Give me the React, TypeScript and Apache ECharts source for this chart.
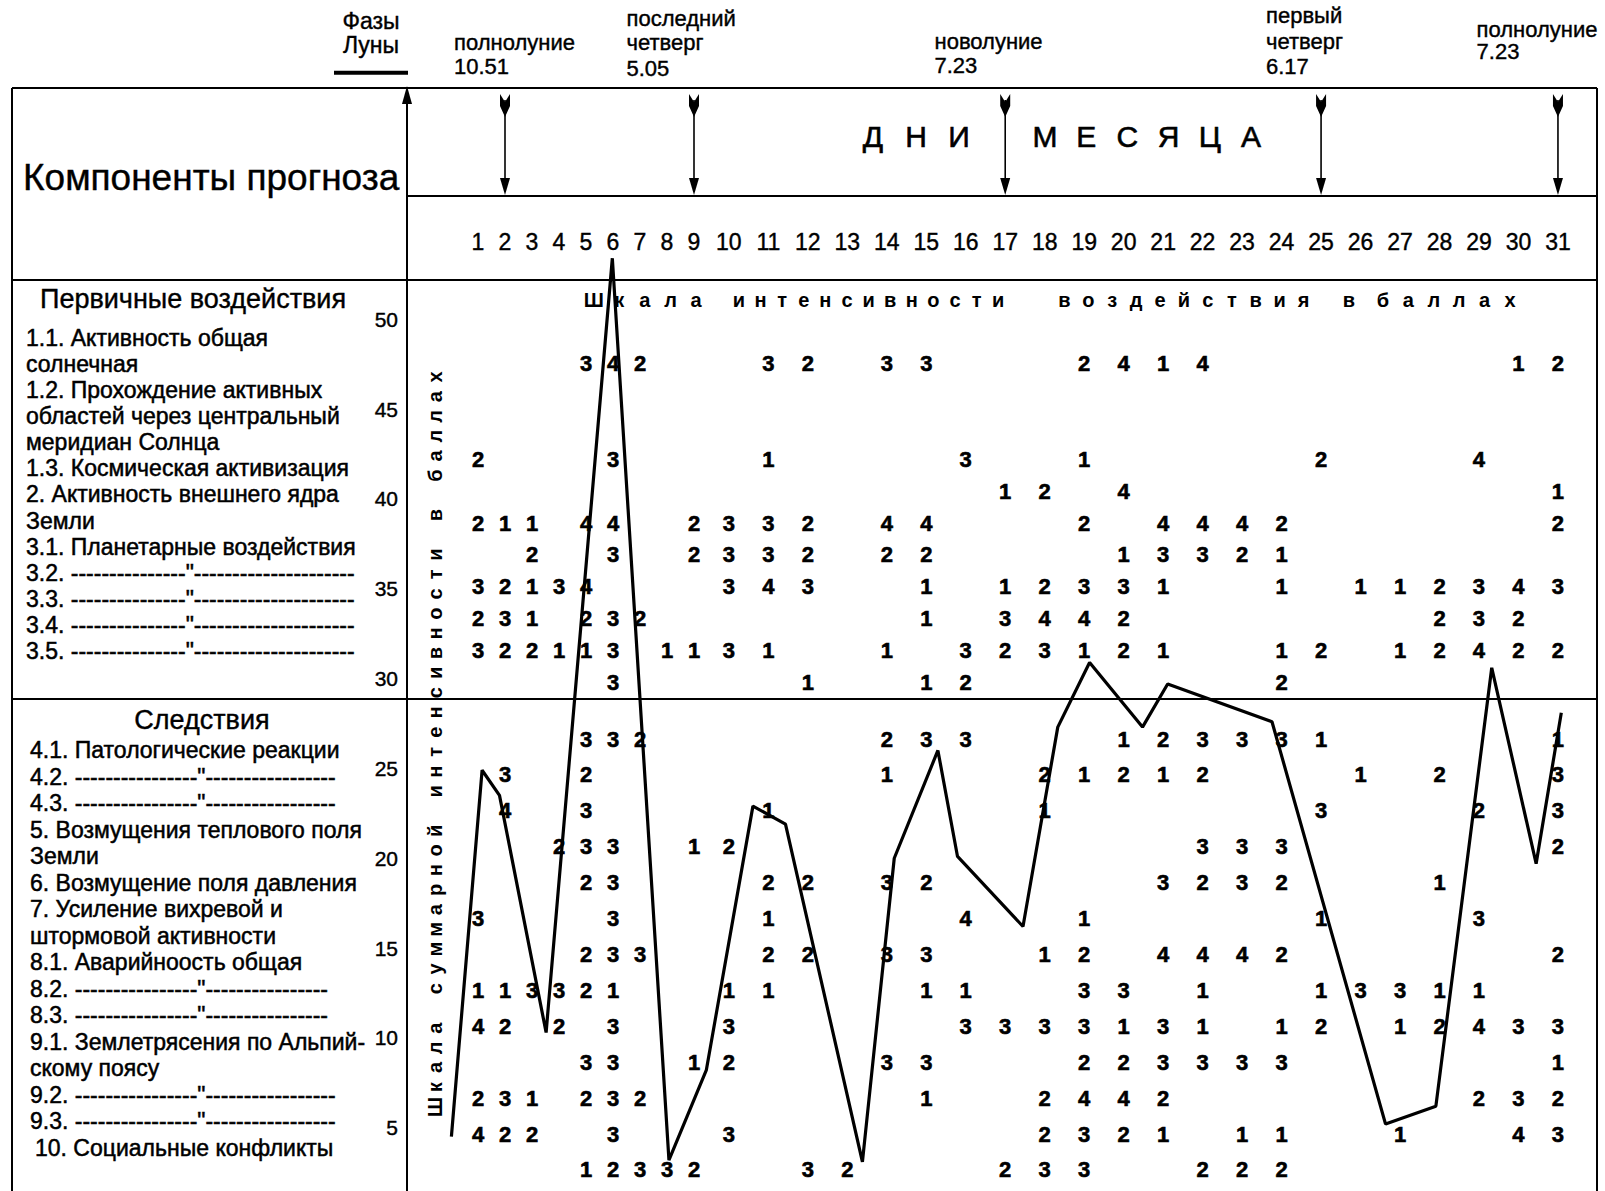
import React, { useEffect, useRef } from 'react';
import * as echarts from 'echarts';

// ---------- data ----------
const dayLabelsA = ['1', '2', '3', '4', '5', '6', '7', '8', '9'];
const dayLabelsB = ['10', '11', '12', '13', '14', '15', '16', '17', '18', '19', '20', '21', '22', '23', '24', '25', '26', '27', '28', '29', '30', '31'];

// digit rows (spacer rows keep the gap that the three-line label 1.2 takes)
const primaryRowKeys = ['1.1', 'sp1', 'sp2', '1.2', '1.3', '2', '3.1', '3.2', '3.3', '3.4', '3.5'];
const consRowKeys = ['4.1', '4.2', '4.3', '5', '6', '7', '8.1', '8.2', '8.3', '9.1', '9.2', '9.3', '10'];

// scores (баллы) for days 1..31, 0 = no score
const s1_1 = [0, 0, 0, 0, 3, 4, 2, 0, 0, 0, 3, 2, 0, 3, 3, 0, 0, 0, 2, 4, 1, 4, 0, 0, 0, 0, 0, 0, 0, 1, 2];
const s1_2 = [2, 0, 0, 0, 0, 3, 0, 0, 0, 0, 1, 0, 0, 0, 0, 3, 0, 0, 1, 0, 0, 0, 0, 0, 2, 0, 0, 0, 4, 0, 0];
const s1_3 = [0, 0, 0, 0, 0, 0, 0, 0, 0, 0, 0, 0, 0, 0, 0, 0, 1, 2, 0, 4, 0, 0, 0, 0, 0, 0, 0, 0, 0, 0, 1];
const s2 = [2, 1, 1, 0, 4, 4, 0, 0, 2, 3, 3, 2, 0, 4, 4, 0, 0, 0, 2, 0, 4, 4, 4, 2, 0, 0, 0, 0, 0, 0, 2];
const s3_1 = [0, 0, 2, 0, 0, 3, 0, 0, 2, 3, 3, 2, 0, 2, 2, 0, 0, 0, 0, 1, 3, 3, 2, 1, 0, 0, 0, 0, 0, 0, 0];
const s3_2 = [3, 2, 1, 3, 4, 0, 0, 0, 0, 3, 4, 3, 0, 0, 1, 0, 1, 2, 3, 3, 1, 0, 0, 1, 0, 1, 1, 2, 3, 4, 3];
const s3_3 = [2, 3, 1, 0, 2, 3, 2, 0, 0, 0, 0, 0, 0, 0, 1, 0, 3, 4, 4, 2, 0, 0, 0, 0, 0, 0, 0, 2, 3, 2, 0];
const s3_4 = [3, 2, 2, 1, 1, 3, 0, 1, 1, 3, 1, 0, 0, 1, 0, 3, 2, 3, 1, 2, 1, 0, 0, 1, 2, 0, 1, 2, 4, 2, 2];
const s3_5 = [0, 0, 0, 0, 0, 3, 0, 0, 0, 0, 0, 1, 0, 0, 1, 2, 0, 0, 0, 0, 0, 0, 0, 2, 0, 0, 0, 0, 0, 0, 0];

const s4_1 = [0, 0, 0, 0, 3, 3, 2, 0, 0, 0, 0, 0, 0, 2, 3, 3, 0, 0, 0, 1, 2, 3, 3, 3, 1, 0, 0, 0, 0, 0, 1];
const s4_2 = [0, 3, 0, 0, 2, 0, 0, 0, 0, 0, 0, 0, 0, 1, 0, 0, 0, 2, 1, 2, 1, 2, 0, 0, 0, 1, 0, 2, 0, 0, 3];
const s4_3 = [0, 4, 0, 0, 3, 0, 0, 0, 0, 0, 1, 0, 0, 0, 0, 0, 0, 1, 0, 0, 0, 0, 0, 0, 3, 0, 0, 0, 2, 0, 3];
const s5 = [0, 0, 0, 2, 3, 3, 0, 0, 1, 2, 0, 0, 0, 0, 0, 0, 0, 0, 0, 0, 0, 3, 3, 3, 0, 0, 0, 0, 0, 0, 2];
const s6 = [0, 0, 0, 0, 2, 3, 0, 0, 0, 0, 2, 2, 0, 3, 2, 0, 0, 0, 0, 0, 3, 2, 3, 2, 0, 0, 0, 1, 0, 0, 0];
const s7 = [3, 0, 0, 0, 0, 3, 0, 0, 0, 0, 1, 0, 0, 0, 0, 4, 0, 0, 1, 0, 0, 0, 0, 0, 1, 0, 0, 0, 3, 0, 0];
const s8_1 = [0, 0, 0, 0, 2, 3, 3, 0, 0, 0, 2, 2, 0, 3, 3, 0, 0, 1, 2, 0, 4, 4, 4, 2, 0, 0, 0, 0, 0, 0, 2];
const s8_2 = [1, 1, 3, 3, 2, 1, 0, 0, 0, 1, 1, 0, 0, 0, 1, 1, 0, 0, 3, 3, 0, 1, 0, 0, 1, 3, 3, 1, 1, 0, 0];
const s8_3 = [4, 2, 0, 2, 0, 3, 0, 0, 0, 3, 0, 0, 0, 0, 0, 3, 3, 3, 3, 1, 3, 1, 0, 1, 2, 0, 1, 2, 4, 3, 3];
const s9_1 = [0, 0, 0, 0, 3, 3, 0, 0, 1, 2, 0, 0, 0, 3, 3, 0, 0, 0, 2, 2, 3, 3, 3, 3, 0, 0, 0, 0, 0, 0, 1];
const s9_2 = [2, 3, 1, 0, 2, 3, 2, 0, 0, 0, 0, 0, 0, 0, 1, 0, 0, 2, 4, 4, 2, 0, 0, 0, 0, 0, 0, 0, 2, 3, 2];
const s9_3 = [4, 2, 2, 0, 0, 3, 0, 0, 0, 3, 0, 0, 0, 0, 0, 0, 0, 2, 3, 2, 1, 0, 1, 1, 0, 0, 1, 0, 0, 4, 3];
const s10 = [0, 0, 0, 0, 1, 2, 3, 3, 2, 0, 0, 3, 2, 0, 0, 0, 2, 3, 3, 0, 0, 2, 2, 2, 0, 0, 0, 0, 0, 0, 0];

// line of total intensity: bend points (day position, total score)
const lineDays = [1.0, 1.83, 2.3, 3.56, 5.35, 6.88, 7.89, 9.15, 10.03, 12.11, 12.97, 14.15, 14.68, 16.45, 17.39, 18.25, 19.68, 20.36, 23.18, 26.25, 27.61, 29.12, 30.32, 31.0];
const lineTotals = [4.5, 24.9, 23.5, 10.3, 53.4, 3.2, 8.2, 22.9, 21.9, 3.1, 20.0, 26.0, 20.1, 16.2, 27.3, 30.9, 27.3, 29.7, 27.6, 5.2, 6.2, 30.6, 19.7, 28.1];

// moon phases
const moonPhaseDays = [2, 9, 17, 25, 31];
const moonPhaseNames = [['полнолуние'], ['последний', 'четверг'], ['новолуние'], ['первый', 'четверг'], ['полнолуние']];
const moonPhaseTimes = ['10.51', '5.05', '7.23', '6.17', '7.23'];

// row labels
const primaryLabelLines = [
  '1.1. Активность общая',
  'солнечная',
  '1.2. Прохождение активных',
  'областей через центральный',
  'меридиан Солнца',
  '1.3. Космическая активизация',
  '2. Активность внешнего ядра',
  'Земли',
  '3.1. Планетарные воздействия',
  '3.2. ---------------"---------------------',
  '3.3. ---------------"---------------------',
  '3.4. ---------------"---------------------',
  '3.5. ---------------"---------------------',
];
const consLabelLines = [
  '4.1. Патологические реакции',
  '4.2. ----------------"-----------------',
  '4.3. ----------------"-----------------',
  '5. Возмущения теплового поля',
  'Земли',
  '6. Возмущение поля давления',
  '7. Усиление вихревой и',
  'штормовой активности',
  '8.1. Аварийноость общая',
  '8.2. ----------------"----------------',
  '8.3. ----------------"----------------',
  '9.1. Землетрясения по Альпий-',
  'скому поясу',
  '9.2. ----------------"-----------------',
  '9.3. ----------------"-----------------',
  '10. Социальные конфликты',
];

// ---------- helpers ----------
const FONT = '"Liberation Sans", Arial, Helvetica, sans-serif';
const NARROW = '"Liberation Sans Narrow", "Arial Narrow", "Liberation Sans", sans-serif';

const primaryRows: Record<string, number[]> = { '1.1': s1_1, '1.2': s1_2, '1.3': s1_3, '2': s2, '3.1': s3_1, '3.2': s3_2, '3.3': s3_3, '3.4': s3_4, '3.5': s3_5 };
const consRows: Record<string, number[]> = { '4.1': s4_1, '4.2': s4_2, '4.3': s4_3, '5': s5, '6': s6, '7': s7, '8.1': s8_1, '8.2': s8_2, '8.3': s8_3, '9.1': s9_1, '9.2': s9_2, '9.3': s9_3, '10': s10 };

function buildPoints(keys: string[], rows: Record<string, number[]>, fromDay: number, toDay: number) {
  const pts: number[][] = [];
  keys.forEach((k, r) => {
    const arr = rows[k];
    if (!arr) return;
    for (let d = fromDay; d <= toDay; d++) {
      const v = arr[d - 1];
      if (v) pts.push([d - fromDay, r, v]);
    }
  });
  return pts;
}

function txt(text: string, x: number, y: number, size: number, extra: any = {}) {
  const style: any = {
    text,
    fill: '#000',
    fontSize: size,
    fontFamily: extra.family || FONT,
    fontWeight: extra.weight || 'normal',
    align: extra.align || 'left',
    verticalAlign: 'middle',
  };
  if (extra.heavy) {
    style.stroke = '#000';
    style.lineWidth = extra.heavy;
  }
  return { type: 'text', x, y, silent: true, style };
}

function spacedWord(word: string, x0: number, y: number, pitch: number, size: number, weight = 'normal', heavy = 0) {
  return Array.from(word).map((ch, i) => txt(ch, x0 + i * pitch, y, size, { align: 'center', weight, heavy }));
}

function verticalSpaced(str: string, x: number, y0: number, pitch: number, size: number) {
  const out: any[] = [];
  Array.from(str).forEach((ch, i) => {
    if (ch === ' ') return;
    out.push({
      type: 'text',
      x,
      y: y0 - i * pitch,
      rotation: Math.PI / 2,
      silent: true,
      style: { text: ch, fill: '#000', fontSize: size, fontFamily: FONT, fontWeight: 'bold', align: 'center', verticalAlign: 'middle' },
    });
  });
  return out;
}

function hline(x1: number, x2: number, y: number, w = 2) {
  return { type: 'line', silent: true, shape: { x1, y1: y, x2, y2: y }, style: { stroke: '#000', lineWidth: w } };
}
function vline(x: number, y1: number, y2: number, w = 2) {
  return { type: 'line', silent: true, shape: { x1: x, y1, x2: x, y2 }, style: { stroke: '#000', lineWidth: w } };
}
function poly(points: number[][]) {
  return { type: 'polygon', silent: true, shape: { points }, style: { fill: '#000' } };
}

const digitLabel = {
  show: true,
  position: 'inside',
  formatter: (p: any) => String(p.value[2]),
  fontSize: 22,
  fontWeight: 'bold',
  color: '#000',
  opacity: 1,
  textBorderColor: '#000',
  textBorderWidth: 0.6,
  fontFamily: FONT,
};

const digitItem = { color: '#fff', opacity: 1, borderWidth: 0 };

const dayAxisLabel = {
  interval: 0,
  margin: 0,
  verticalAlign: 'middle',
  fontSize: 23,
  color: '#000',
  textBorderColor: '#000',
  textBorderWidth: 0.4,
  fontFamily: NARROW,
};

export default function App() {
  const ref = useRef<HTMLDivElement>(null);

  useEffect(() => {
    document.body.style.margin = '0';
    const el = ref.current;
    if (!el) return;
    const chart = echarts.init(el, null, { renderer: 'svg' });

    const gA = 464.5, wA = 243.0, gB = 709.1, wB = 868.6;
    const pTop = 347.4, pH = 351.2, cTop = 721.1, cH = 466.8;

    const hiddenCat = (grid: number, data: string[]) => ({ gridIndex: grid, type: 'category', data, show: false });
    const rowAxis = (grid: number, data: string[]) => ({ gridIndex: grid, type: 'category', data, inverse: true, show: false });
    const digits = (xi: number, data: number[][]) => ({
      type: 'scatter', xAxisIndex: xi, yAxisIndex: xi, data,
      symbol: 'circle', symbolSize: 0.1, itemStyle: digitItem, label: digitLabel,
      emphasis: { disabled: true }, silent: true, z: 2,
    });

    const option: any = {
      animation: false,
      backgroundColor: '#ffffff',
      grid: [
        { left: gA, top: pTop, width: wA, height: pH, containLabel: false, outerBoundsMode: 'none' },
        { left: gB, top: pTop, width: wB, height: pH, containLabel: false, outerBoundsMode: 'none' },
        { left: gA, top: cTop, width: wA, height: cH, containLabel: false, outerBoundsMode: 'none' },
        { left: gB, top: cTop, width: wB, height: cH, containLabel: false, outerBoundsMode: 'none' },
        { left: 451.4, top: 229.5, width: 1109.9, height: 898.2, containLabel: false, outerBoundsMode: 'none' },
      ],
      xAxis: [
        {
          gridIndex: 0, type: 'category', data: dayLabelsA, position: 'top', offset: 105.8,
          axisLine: { show: false }, axisTick: { show: false }, splitLine: { show: false }, axisLabel: dayAxisLabel,
        },
        {
          gridIndex: 1, type: 'category', data: dayLabelsB, position: 'top', offset: 105.8,
          axisLine: { show: false }, axisTick: { show: false }, splitLine: { show: false }, axisLabel: dayAxisLabel,
        },
        hiddenCat(2, dayLabelsA),
        hiddenCat(3, dayLabelsB),
        { gridIndex: 4, type: 'value', min: 1, max: 31, show: false },
      ],
      yAxis: [
        rowAxis(0, primaryRowKeys),
        rowAxis(1, primaryRowKeys),
        rowAxis(2, consRowKeys),
        rowAxis(3, consRowKeys),
        {
          gridIndex: 4, type: 'value', min: 5, max: 55, interval: 5,
          axisLine: { show: false }, axisTick: { show: false }, splitLine: { show: false },
          axisLabel: {
            margin: 53.4, fontSize: 21, color: '#000', fontFamily: FONT,
            textBorderColor: '#000', textBorderWidth: 0.4,
            formatter: (v: number) => (v > 50 ? '' : String(v)),
          },
        },
      ],
      series: [
        digits(0, buildPoints(primaryRowKeys, primaryRows, 1, 9)),
        digits(1, buildPoints(primaryRowKeys, primaryRows, 10, 31)),
        digits(2, buildPoints(consRowKeys, consRows, 1, 9)),
        digits(3, buildPoints(consRowKeys, consRows, 10, 31)),
        {
          type: 'line', xAxisIndex: 4, yAxisIndex: 4,
          data: lineDays.map((d, i) => [d, lineTotals[i]]),
          symbol: 'none', lineStyle: { color: '#000', width: 3.2 }, clip: false, silent: true, z: 3,
        },
      ],
    };
    chart.setOption(option);

    // ---- table, captions, arrows ----
    const L = 12, R = 1597, TOP = 88, BOT = 1191, AX = 407;
    const g: any[] = [];
    g.push(hline(L, R, TOP), vline(L, TOP, BOT), vline(R, TOP, BOT));
    g.push(vline(AX, 98, BOT, 2));
    g.push(poly([[AX - 5, 104], [AX + 5, 104], [AX, 86]]));
    g.push(hline(AX, R, 196), hline(L, R, 280), hline(L, R, 699));
    // moon phase header
    g.push(txt('Фазы', 371, 20.7, 23, { align: 'center', heavy: 0.4 }), txt('Луны', 371, 45, 23, { align: 'center', heavy: 0.4 }));
    g.push(hline(334, 408, 72.7, 4));
    const phaseX = [454, 626.5, 934.5, 1266, 1476.6];
    const phaseY = [[42.7, 66.7], [18.3, 42.7, 68.3], [41.7, 65], [15, 41.7, 66.7], [29.3, 51.7]];
    moonPhaseNames.forEach((names, i) => {
      const ys = phaseY[i];
      names.forEach((n, j) => g.push(txt(n, phaseX[i], ys[j], 22, { heavy: 0.4 })));
      g.push(txt(moonPhaseTimes[i], phaseX[i], ys[names.length], 22, { heavy: 0.4 }));
    });
    // arrows at moon-phase days
    moonPhaseDays.forEach((d) => {
      const x = d <= 9 ? chart.convertToPixel({ xAxisIndex: 0 }, d - 1) : chart.convertToPixel({ xAxisIndex: 1 }, d - 10);
      g.push(vline(x, 100, 186, 1.6));
      g.push(poly([[x - 5, 178], [x + 5, 178], [x, 195]]));
      g.push(poly([[x - 5, 94], [x, 102], [x + 5, 94], [x + 5, 106], [x, 117], [x - 5, 106]]));
    });
    // "ДНИ МЕСЯЦА"
    g.push(...spacedWord('ДНИ', 873, 136.7, 43, 30, 'normal', 0.6));
    g.push(...spacedWord('МЕСЯЦА', 1045, 136.7, 41.2, 30, 'normal', 0.6));
    g.push(txt('Компоненты прогноза', 23, 177, 37, { heavy: 0.4 }));
    // caption of the scores
    g.push(...spacedWord('Шкала', 593.7, 300, 25.6, 20, 'bold'));
    g.push(...spacedWord('интенсивности', 739, 300, 21.6, 20, 'bold'));
    g.push(...spacedWord('воздействия', 1064.5, 300, 23.9, 20, 'bold'));
    g.push(...spacedWord('в', 1349, 300, 25, 20, 'bold'));
    g.push(...spacedWord('баллах', 1383, 300, 25.4, 20, 'bold'));
    // vertical axis title
    g.push(...verticalSpaced('Шкала суммарной интенсивности в баллах', 435, 1107, 19.73, 20));
    // row labels
    g.push(txt('Первичные воздействия', 193, 298.5, 27, { align: 'center', heavy: 0.4 }));
    primaryLabelLines.forEach((s, i) => g.push(txt(s, 26, 337.8 + i * 26.1, 23, { heavy: 0.5 })));
    g.push(txt('Следствия', 202, 720, 27, { align: 'center', heavy: 0.4 }));
    consLabelLines.forEach((s, i) => g.push(txt(s, i === consLabelLines.length - 1 ? 35 : 30, 750.3 + i * 26.48, 23, { heavy: 0.5 })));

    chart.setOption({ graphic: { elements: g } });

    return () => chart.dispose();
  }, []);

  return <div ref={ref} style={{ width: 1605, height: 1191, background: '#fff' }} />;
}
